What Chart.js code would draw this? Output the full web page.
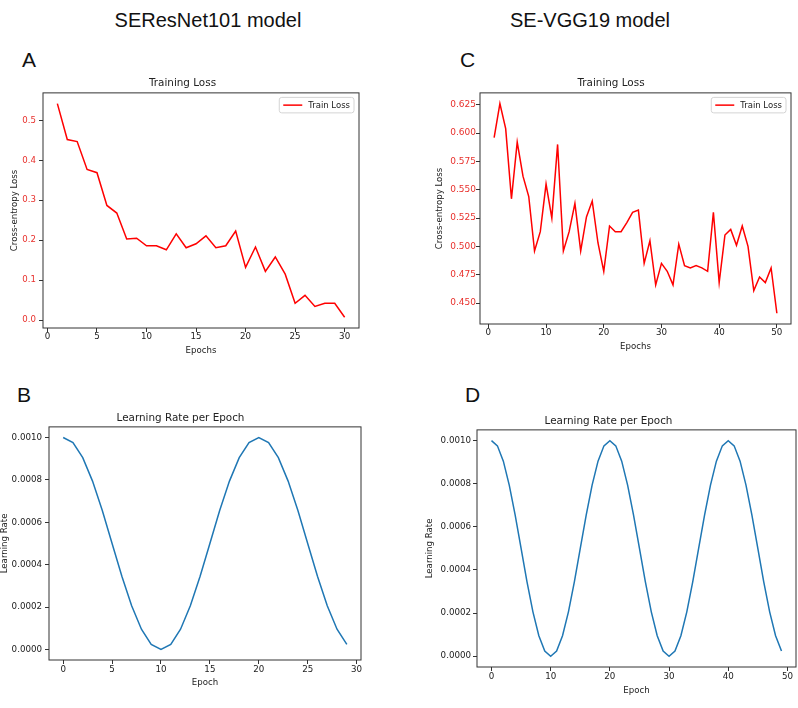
<!DOCTYPE html>
<html>
<head>
<meta charset="utf-8">
<script src="https://cdn.jsdelivr.net/npm/chart.js@4.4.1/dist/chart.umd.min.js"></script>
<style>
  body { margin: 0; background: #fff; width: 798px; height: 708px; position: relative; overflow: hidden;
         font-family: "Liberation Sans", Arial, sans-serif; }
  .box { position: absolute; }
  .head { position: absolute; font-size: 20px; color: #111; transform: translate(-50%, -50%); white-space: nowrap; }
  .tag { position: absolute; font-size: 21px; color: #111; transform: translateY(-50%); }
</style>
</head>
<body>
<div class="head" style="left:208px;top:20px">SEResNet101 model</div>
<div class="head" style="left:590px;top:20px">SE-VGG19 model</div>
<div class="tag" style="left:22px;top:60px">A</div>
<div class="tag" style="left:460px;top:60px">C</div>
<div class="tag" style="left:17px;top:395px">B</div>
<div class="tag" style="left:465px;top:395px">D</div>

<div class="box" style="left:6px;top:77px;width:364px;height:281px"><canvas id="chartA"></canvas></div>
<div class="box" style="left:431px;top:77px;width:367px;height:277px"><canvas id="chartC"></canvas></div>
<div class="box" style="left:0px;top:412px;width:372px;height:278px"><canvas id="chartB"></canvas></div>
<div class="box" style="left:421px;top:415px;width:377px;height:283px"><canvas id="chartD"></canvas></div>

<script>
// epochs (x values)
const epochsA = [1,2,3,4,5,6,7,8,9,10,11,12,13,14,15,16,17,18,19,20,21,22,23,24,25,26,27,28,29,30];
const epochsC = [1,2,3,4,5,6,7,8,9,10,11,12,13,14,15,16,17,18,19,20,21,22,23,24,25,
                 26,27,28,29,30,31,32,33,34,35,36,37,38,39,40,41,42,43,44,45,46,47,48,49,50];
const epochsB = [0,1,2,3,4,5,6,7,8,9,10,11,12,13,14,15,16,17,18,19,20,21,22,23,24,25,26,27,28,29];
const epochsD = [0,1,2,3,4,5,6,7,8,9,10,11,12,13,14,15,16,17,18,19,20,21,22,23,24,
                 25,26,27,28,29,30,31,32,33,34,35,36,37,38,39,40,41,42,43,44,45,46,47,48,49];

// train loss
const lossA = [0.542, 0.452, 0.447, 0.377, 0.369, 0.287, 0.268, 0.203, 0.205, 0.186,
               0.186, 0.176, 0.216, 0.181, 0.191, 0.211, 0.181, 0.186, 0.223, 0.132,
               0.183, 0.122, 0.158, 0.115, 0.042, 0.062, 0.034, 0.042, 0.042, 0.007];
const lossC = [0.596, 0.626, 0.604, 0.542, 0.592, 0.562, 0.544, 0.496, 0.513, 0.555,
               0.525, 0.590, 0.496, 0.513, 0.538, 0.496, 0.526, 0.540, 0.503, 0.478,
               0.518, 0.513, 0.513, 0.521, 0.530, 0.532, 0.485, 0.505, 0.466, 0.485,
               0.478, 0.466, 0.502, 0.483, 0.481, 0.483, 0.481, 0.478, 0.530, 0.468,
               0.510, 0.515, 0.501, 0.518, 0.500, 0.461, 0.473, 0.468, 0.481, 0.441];

// learning rate per epoch
const lrB = [0.001, 0.000976, 0.000905, 0.000794, 0.000655, 0.0005, 0.000345, 0.000206, 0.000095, 0.000024,
             0, 0.000024, 0.000095, 0.000206, 0.000345, 0.0005, 0.000655, 0.000794, 0.000905, 0.000976,
             0.001, 0.000976, 0.000905, 0.000794, 0.000655, 0.0005, 0.000345, 0.000206, 0.000095, 0.000024];
const lrD = [0.001, 0.000976, 0.000905, 0.000794, 0.000655, 0.0005, 0.000345, 0.000206, 0.000095, 0.000024,
             0, 0.000024, 0.000095, 0.000206, 0.000345, 0.0005, 0.000655, 0.000794, 0.000905, 0.000976,
             0.001, 0.000976, 0.000905, 0.000794, 0.000655, 0.0005, 0.000345, 0.000206, 0.000095, 0.000024,
             0, 0.000024, 0.000095, 0.000206, 0.000345, 0.0005, 0.000655, 0.000794, 0.000905, 0.000976,
             0.001, 0.000976, 0.000905, 0.000794, 0.000655, 0.0005, 0.000345, 0.000206, 0.000095, 0.000024];

// tick labels
const xTicks30 = [0, 5, 10, 15, 20, 25, 30];
const xTicks50 = [0, 10, 20, 30, 40, 50];
const yTicksA = [0.0, 0.1, 0.2, 0.3, 0.4, 0.5];
const yTicksC = [0.450, 0.475, 0.500, 0.525, 0.550, 0.575, 0.600, 0.625];
const yTicksLr = [0.0000, 0.0002, 0.0004, 0.0006, 0.0008, 0.0010];

const FONT = '"DejaVu Sans", sans-serif';
const TXT = '#222';
const RED = '#ff0000';
const BLUE = '#1f77b4';

// box round the plot, plus the matplotlib-style legend inside the top right corner
const frameAndLegend = {
  id: 'frameAndLegend',
  afterDraw(chart, args, opts) {
    const { ctx, chartArea: a } = chart;
    ctx.save();
    if (opts.legend) {
      const ds = chart.data.datasets[0];
      ctx.font = '8.5px ' + FONT;
      const tw = ctx.measureText(ds.label).width;
      const w = 4 + 19 + 6 + tw + 4, h = 15.5;
      const x = a.right - 5 - w, y = a.top + 4.5;
      ctx.beginPath();
      ctx.roundRect(x, y, w, h, 2.5);
      ctx.fillStyle = 'rgba(255,255,255,0.8)';
      ctx.fill();
      ctx.strokeStyle = '#d4d4d4';
      ctx.lineWidth = 1;
      ctx.stroke();
      ctx.beginPath();
      ctx.moveTo(x + 4, y + h / 2);
      ctx.lineTo(x + 23, y + h / 2);
      ctx.strokeStyle = ds.borderColor;
      ctx.lineWidth = 1.5;
      ctx.stroke();
      ctx.fillStyle = TXT;
      ctx.textBaseline = 'middle';
      ctx.fillText(ds.label, x + 29, y + h / 2 + 0.5);
    }
    ctx.strokeStyle = '#333';
    ctx.lineWidth = 1;
    ctx.strokeRect(a.left, a.top, a.width, a.height);
    ctx.restore();
  }
};

function makeChart(id, c) {
  new Chart(document.getElementById(id), {
    type: 'line',
    data: {
      datasets: [{
        label: c.label,
        data: c.x.map((v, i) => ({ x: v, y: c.y[i] })),
        borderColor: c.color,
        borderWidth: 1.5,
        pointRadius: 0,
        fill: false,
        tension: 0
      }]
    },
    options: {
      responsive: true,
      maintainAspectRatio: false,
      animation: false,
      layout: { padding: { left: 0, top: 0, bottom: 0, right: c.padRight } },
      plugins: {
        legend: { display: false },
        tooltip: { enabled: false },
        title: {
          display: true, text: c.title, color: TXT,
          font: { family: FONT, size: 10.4, weight: 'normal' },
          padding: { top: 0, bottom: c.titlePad }
        },
        frameAndLegend: { legend: c.legend }
      },
      scales: {
        x: {
          type: 'linear', min: c.xMin, max: c.xMax,
          afterFit: s => { s.height = c.xHeight; },
          afterBuildTicks: s => { s.ticks = c.xTicks.map(v => ({ value: v })); },
          ticks: { autoSkip: false, maxRotation: 0, padding: c.xTickPad, color: TXT,
                   font: { family: FONT, size: 8.7 } },
          grid: { drawOnChartArea: false, drawTicks: true, tickLength: 4, color: '#333', tickColor: '#333' },
          border: { display: false },
          title: { display: true, text: c.xTitle, color: TXT, font: { family: FONT, size: 8.6 },
                   padding: { top: 0, bottom: 2.3 } }
        },
        y: {
          type: 'linear', min: c.yMin, max: c.yMax,
          afterFit: s => { s.width = c.yWidth; },
          afterBuildTicks: s => { s.ticks = c.yTicks.map(v => ({ value: v })); },
          ticks: { autoSkip: false, padding: c.yTickPad, color: c.yTickColor,
                   font: { family: FONT, size: c.yTickSize },
                   callback: v => Number(v).toFixed(c.decimals) },
          grid: { drawOnChartArea: false, drawTicks: true, tickLength: 4, color: '#333', tickColor: '#333' },
          border: { display: false },
          title: { display: true, text: c.yTitle, color: TXT, font: { family: FONT, size: 8.6 },
                   padding: { top: c.yTitlePad, bottom: 0 } }
        }
      }
    },
    plugins: [frameAndLegend]
  });
}

makeChart('chartA', {
  label: 'Train Loss', x: epochsA, y: lossA, color: RED, legend: true,
  title: 'Training Loss', titlePad: 3.4, padRight: 11,
  xMin: -0.45, xMax: 31.45, xTicks: xTicks30, xHeight: 30, xTickPad: 0, xTitle: 'Epochs',
  yMin: -0.0198, yMax: 0.5688, yTicks: yTicksA, yWidth: 37, yTickPad: 3, yTickColor: '#e8302c',
  yTickSize: 8.6, decimals: 1, yTitle: 'Cross-entropy Loss', yTitlePad: 4
});

makeChart('chartC', {
  label: 'Train Loss', x: epochsC, y: lossC, color: RED, legend: true,
  title: 'Training Loss', titlePad: 3.4, padRight: 7,
  xMin: -1.45, xMax: 52.45, xTicks: xTicks50, xHeight: 30, xTickPad: 0, xTitle: 'Epochs',
  yMin: 0.4315, yMax: 0.6355, yTicks: yTicksC, yWidth: 49, yTickPad: 0, yTickColor: '#e8302c',
  yTickSize: 9, decimals: 3, yTitle: 'Cross-entropy Loss', yTitlePad: 4
});

makeChart('chartB', {
  label: 'Learning Rate', x: epochsB, y: lrB, color: BLUE, legend: false,
  title: 'Learning Rate per Epoch', titlePad: 2.4, padRight: 11,
  xMin: -1.45, xMax: 30.45, xTicks: xTicks30, xHeight: 30, xTickPad: 1, xTitle: 'Epoch',
  yMin: -0.00005, yMax: 0.00105, yTicks: yTicksLr, yWidth: 49, yTickPad: 3, yTickColor: TXT,
  yTickSize: 8.7, decimals: 4, yTitle: 'Learning Rate', yTitlePad: 0
});

makeChart('chartD', {
  label: 'Learning Rate', x: epochsD, y: lrD, color: BLUE, legend: false,
  title: 'Learning Rate per Epoch', titlePad: 2.4, padRight: 2,
  xMin: -2.45, xMax: 51.45, xTicks: xTicks50, xHeight: 31, xTickPad: 1, xTitle: 'Epoch',
  yMin: -0.00005, yMax: 0.00105, yTicks: yTicksLr, yWidth: 56, yTickPad: 2, yTickColor: TXT,
  yTickSize: 8.7, decimals: 4, yTitle: 'Learning Rate', yTitlePad: 4
});
</script>
</body>
</html>
